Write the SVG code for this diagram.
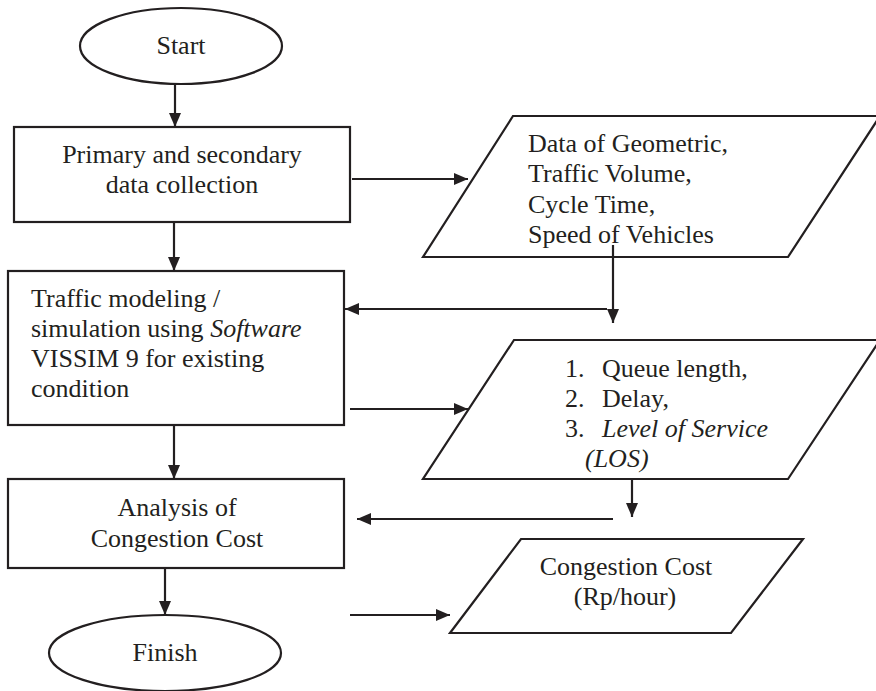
<svg xmlns="http://www.w3.org/2000/svg" width="876" height="691" viewBox="0 0 876 691">
<style>
.s{fill:#fff;stroke:#231f20;stroke-width:2.2}
.c{fill:none;stroke:#231f20;stroke-width:2.2}
text{font-family:"Liberation Serif","Times New Roman",serif;font-size:26px;fill:#231f20}
.m{text-anchor:middle}
.i{font-style:italic}
</style>
<defs>
<marker id="a" markerUnits="userSpaceOnUse" markerWidth="14" markerHeight="14" viewBox="0 0 14 14" refX="14" refY="7" orient="auto">
<path d="M0,1 L14,7 L0,13 Z" fill="#231f20"/>
</marker>
</defs>
<rect width="876" height="691" fill="#fff"/>
<g id="start"><ellipse class="s" cx="181" cy="46" rx="101" ry="38"/><text class="m" x="181" y="54">Start</text></g>
<g id="box1"><rect class="s" x="14" y="127" width="336" height="95"/><text class="m" x="182" y="163">Primary and secondary</text><text class="m" x="182" y="193">data collection</text></g>
<g id="data1"><polygon class="s" points="513,116 880,116 788,257 423,257"/>
<text x="528" y="152">Data of Geometric,</text><text x="528" y="182">Traffic Volume,</text><text x="528" y="213">Cycle Time,</text><text x="528" y="243">Speed of Vehicles</text></g>
<g id="box2"><rect class="s" x="8" y="271" width="336" height="154"/>
<text x="31" y="307">Traffic modeling /</text><text x="31" y="337">simulation using <tspan class="i">Software</tspan></text><text x="31" y="367">VISSIM 9 for existing</text><text x="31" y="397">condition</text></g>
<g id="data2"><polygon class="s" points="514,340 880,340 788,479 423,479"/>
<text x="565" y="377">1.</text><text x="602" y="377">Queue length,</text>
<text x="565" y="407">2.</text><text x="602" y="407">Delay,</text>
<text x="565" y="437">3.</text><text class="i" x="602" y="437">Level of Service</text>
<text class="i" x="585" y="467">(LOS)</text></g>
<g id="box3"><rect class="s" x="8" y="479" width="336" height="89"/><text class="m" x="177" y="516">Analysis of</text><text class="m" x="177" y="547">Congestion Cost</text></g>
<g id="finish"><ellipse class="s" cx="165" cy="653" rx="116" ry="38"/><text class="m" x="165" y="661">Finish</text></g>
<g id="data3"><polygon class="s" points="521,539 803,539 731,633 450,633"/><text class="m" x="626" y="575">Congestion Cost</text><text class="m" x="625" y="605">(Rp/hour)</text></g>
<g id="connectors">
<line class="c" x1="175" y1="84" x2="175" y2="127" marker-end="url(#a)"/>
<line class="c" x1="352" y1="179" x2="468" y2="179" marker-end="url(#a)"/>
<line class="c" x1="174" y1="222" x2="174" y2="271" marker-end="url(#a)"/>
<line class="c" x1="613" y1="245" x2="613" y2="323" marker-end="url(#a)"/>
<line class="c" x1="607" y1="309" x2="345" y2="309" marker-end="url(#a)"/>
<line class="c" x1="350" y1="409" x2="468" y2="409" marker-end="url(#a)"/>
<line class="c" x1="174" y1="425" x2="174" y2="479" marker-end="url(#a)"/>
<line class="c" x1="632" y1="479" x2="632" y2="517" marker-end="url(#a)"/>
<line class="c" x1="613" y1="519" x2="357" y2="519" marker-end="url(#a)"/>
<line class="c" x1="165" y1="568" x2="165" y2="615" marker-end="url(#a)"/>
<line class="c" x1="350" y1="615" x2="450" y2="615" marker-end="url(#a)"/>
</g>
</svg>
